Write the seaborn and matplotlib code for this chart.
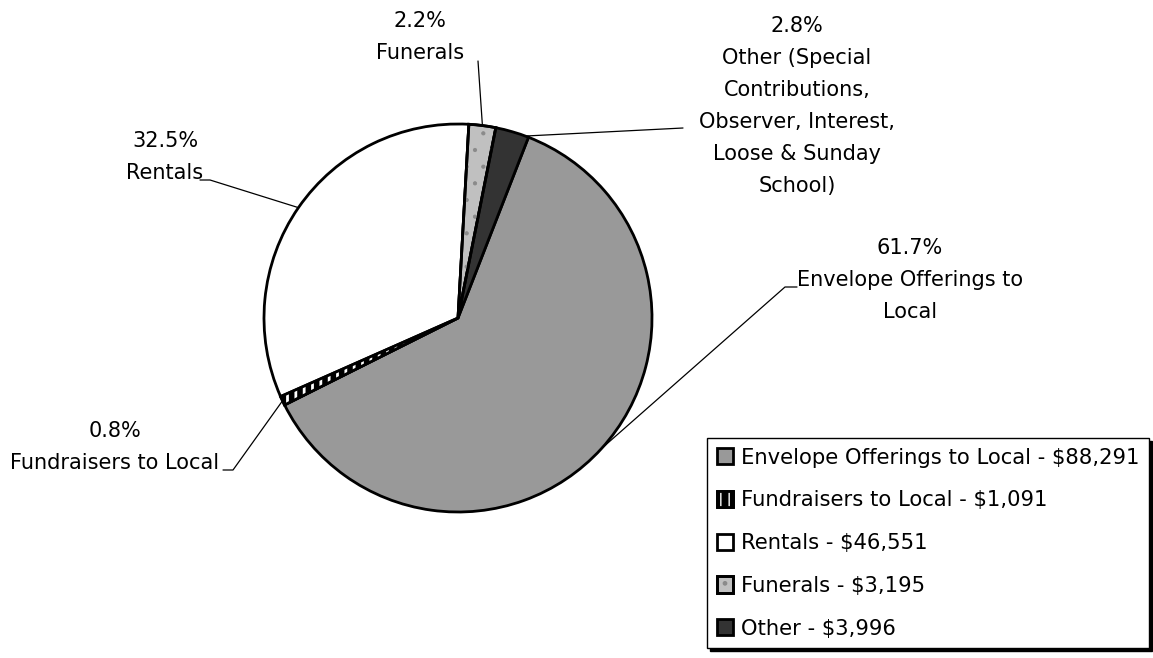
import numpy as np
import matplotlib
matplotlib.use("Agg")
import matplotlib.pyplot as plt
from matplotlib.patches import Wedge
from matplotlib.legend_handler import HandlerTuple
import seaborn as sns

# =========================================
# DATA
# =========================================
categories = ["Envelope Offerings to Local", "Fundraisers to Local", "Rentals",
              "Funerals", "Other"]
amounts = [88291, 1091, 46551, 3195, 3996]
slice_names = ["Envelope Offerings to\nLocal", "Fundraisers to Local", "Rentals",
               "Funerals",
               "Other (Special\nContributions,\nObserver, Interest,\nLoose & Sunday\nSchool)"]
fills = ["#999999", "#000000", "#ffffff", "#c0c0c0", "#333333"]

# =========================================
# STYLE
# =========================================
sns.set_theme(style="white")
plt.rcParams["font.family"] = ["DejaVu Sans"]
plt.rcParams["text.color"] = "black"

W, H = 1153, 658
fig = plt.figure(figsize=(W / 100, H / 100), dpi=100)
ax = fig.add_axes([0, 0, 1, 1])

cx, cy, R = 458, H - 318, 194
edge_lw = 2.0
wedges, _ = ax.pie(amounts, colors=fills, startangle=68.7, counterclock=False,
                   center=(cx, cy), radius=R,
                   wedgeprops=dict(edgecolor="black", linewidth=edge_lw))
ax.set_xlim(0, W)
ax.set_ylim(0, H)
ax.set_aspect("equal")
ax.axis("off")

# hatches: white stripes on the black slice, grey dots on funerals
# (hatch colour follows edgecolor, so draw them as overlays + a black outline)
handles = list(wedges)
for i, hatch, hcol, hlw in [(1, "||", "white", 2.0), (3, ".", "#8a8a8a", 0.6)]:
    w = wedges[i]
    with plt.rc_context({"hatch.linewidth": hlw}):
        over = Wedge(w.center, w.r, w.theta1, w.theta2, facecolor="none",
                     edgecolor=hcol, hatch=hatch, linewidth=0)
    outline = Wedge(w.center, w.r, w.theta1, w.theta2, facecolor="none",
                    edgecolor="black", linewidth=edge_lw)
    ax.add_patch(over)
    ax.add_patch(outline)
    handles[i] = (w, over, outline)

# =========================================
# LABELS + LEADER LINES
# =========================================
total = sum(amounts)
label_pos = [(910, 280), (115, 447), (165, 157), (420, 37), (797, 106)]
anchor_frac = [0.5, 0.5, 0.5, 0.5, 0.1]
leader_path = [[(785, 287), (797, 287)],
               [(233, 470), (223, 470)],
               [(210, 180), (200, 180)],
               [(478, 61)],
               [(683, 128)]]

for w, a, name, (lx, ly), f, path in zip(wedges, amounts, slice_names,
                                         label_pos, anchor_frac, leader_path):
    ang = np.deg2rad(w.theta1 + f * (w.theta2 - w.theta1))
    pts = [(cx + R * np.cos(ang), cy + R * np.sin(ang))] + [(x, H - y) for x, y in path]
    xs, ys = zip(*pts)
    ax.plot(xs, ys, color="black", lw=0.9, zorder=1)
    ax.text(lx, H - ly, f"{100 * a / total:.1f}%\n{name}", ha="center", va="center",
            fontsize=15, linespacing=1.74, color="black")

# =========================================
# LEGEND
# =========================================
leg_labels = [f"{c} - ${a:,}" for c, a in zip(categories, amounts)]
leg = fig.legend(handles, leg_labels, loc="upper left",
                 handler_map={tuple: HandlerTuple(ndivide=1, pad=0)},
                 bbox_to_anchor=(707 / W, 1 - 438 / H), borderaxespad=0,
                 fontsize=15.2, labelcolor="black", frameon=True, fancybox=False,
                 shadow={"facecolor": "black", "edgecolor": "black", "alpha": 1},
                 handlelength=0.8, handleheight=0.8, handletextpad=0.35,
                 labelspacing=1.08, borderpad=0.45)
leg.get_frame().set_edgecolor("black")
leg.get_frame().set_linewidth(1.0)
leg.get_frame().set_alpha(1)

fig.savefig("out.png", dpi=100, facecolor="white")
